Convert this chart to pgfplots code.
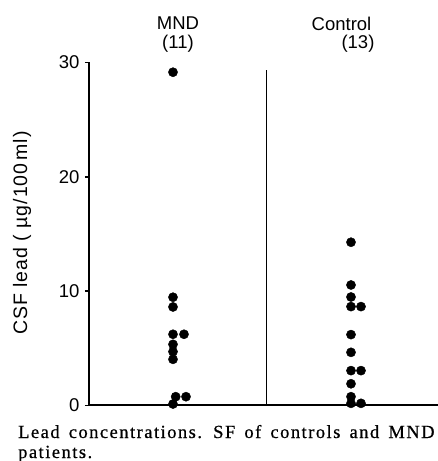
\documentclass[border=0pt]{standalone}
\usepackage{fontspec}
\setmainfont{Liberation Sans}
\newfontfamily\capfont[LetterSpace=8, WordSpace=1.5, FakeBold=0.6]{Liberation Serif}
\usepackage{pgfplots}
\pgfplotsset{compat=1.18}

\begin{document}
\begin{tikzpicture}
\useasboundingbox (-89pt,-55.5pt) rectangle (348pt,405.5pt);
\begin{axis}[
  at={(0pt,0pt)}, anchor=south west,
  scale only axis,
  width=360pt, height=343pt,
  xmin=0, xmax=360, ymin=0, ymax=30,
  axis x line*=bottom, axis y line*=left,
  axis line style={line width=2pt, black},
  xtick=\empty,
  ytick={0,10,20,30},
  tick align=outside,
  major tick length=4pt,
  tick style={line width=1.6pt, black},
  /pgf/number format/assume math mode=true,
  yticklabel style={font=\fontsize{18.5}{20}\selectfont, xshift=-2pt},
  clip=false,
]
  % divider between the groups
  \addplot[black, line width=1.3pt, mark=none] coordinates {(177.5,0) (177.5,29.35)};
  % MND (11)
  \addplot[only marks, mark=*, mark size=4.6pt, black] coordinates {
    (84,29.15) (84,9.47) (84,8.62) (84,6.23) (95,6.23) (84,5.35)
    (84,4.71) (84,4.04) (86.7,0.77) (97,0.77) (84,0.13)};
  % Control (13)
  \addplot[only marks, mark=*, mark size=4.6pt, black] coordinates {
    (262,14.28) (262,10.54) (262,9.49) (262,8.65) (272,8.65) (262,6.2)
    (262,4.65) (262,3.05) (272,3.05) (262,1.9) (262,0.77) (262,0.19) (272,0.19)};
\end{axis}
\begin{scope}[font=\fontsize{18.5}{20}\selectfont]
  \node at (89pt,382pt) {MND};
  \node at (89pt,361.5pt) {(11)};
  \node at (252.5pt,382pt) {Control};
  \node at (269pt,361.5pt) {(13)};
  \node[rotate=90, font=\addfontfeatures{LetterSpace=5}\fontsize{19.5}{21}\selectfont] at (-67pt,172.5pt) {CSF lead ( µg/100\,ml)};
\end{scope}
\node[anchor=base west, font=\capfont\fontsize{18.5}{20}\selectfont, inner sep=0pt]
  at (-71pt,-32.5pt) {Lead concentrations. SF of controls and MND};
\node[anchor=base west, font=\capfont\fontsize{18.5}{20}\selectfont, inner sep=0pt]
  at (-71pt,-52.5pt) {patients.};
\end{tikzpicture}
\end{document}
